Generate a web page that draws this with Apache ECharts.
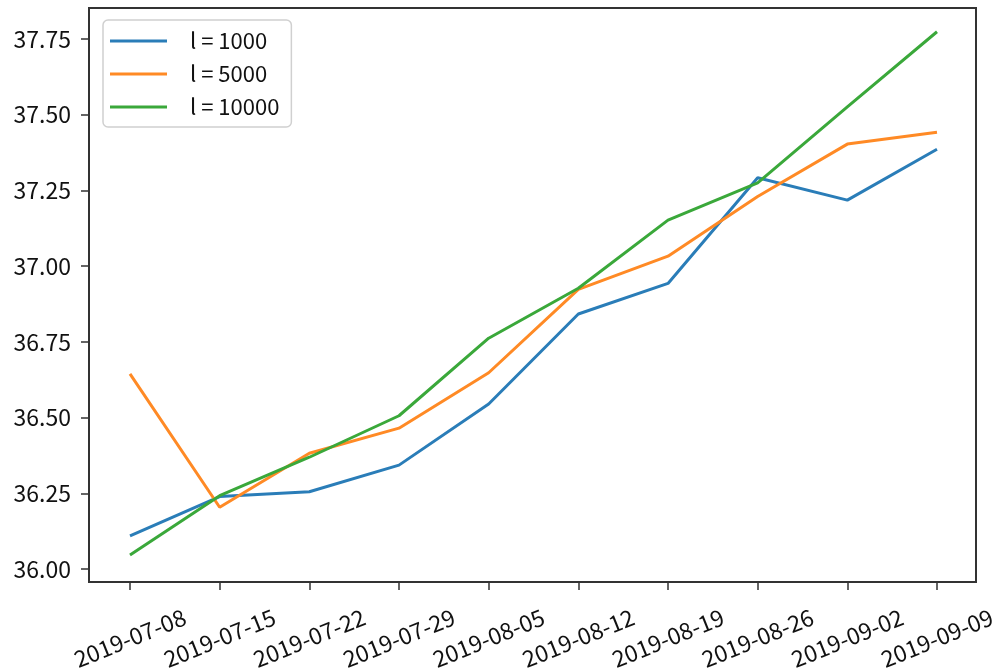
<!DOCTYPE html>
<html>
<head>
<meta charset="utf-8">
<script src="https://cdn.jsdelivr.net/npm/echarts@6/dist/echarts.min.js"></script>
<style>html,body{margin:0;padding:0;background:#fff}#chart{width:1000px;height:672px}</style>
</head>
<body>
<div id="chart"></div>
<script>
const categories = ['2019-07-08','2019-07-15','2019-07-22','2019-07-29','2019-08-05','2019-08-12','2019-08-19','2019-08-26','2019-09-02','2019-09-09'];
const seriesNames = ['l = 1000','l = 5000','l = 10000'];
const s1000 = [36.109, 36.239, 36.255, 36.343, 36.545, 36.842, 36.943, 37.292, 37.218, 37.386];
const s5000 = [36.644, 36.204, 36.382, 36.465, 36.648, 36.923, 37.033, 37.230, 37.403, 37.442];
const s10000 = [36.046, 36.242, 36.369, 36.506, 36.762, 36.927, 37.152, 37.275, 37.526, 37.774];
const yMin = 36.0, yMax = 37.75, yStep = 0.25;

const font = '"Noto Sans CJK SC", "Noto Sans", sans-serif';
const colors = ['#2a7db8','#ff8a25','#3aa83a'];
const chart = echarts.init(document.getElementById('chart'));
const data = [s1000, s5000, s10000];
chart.setOption({
  animation: false,
  color: colors,
  grid: {left: 130, right: 63, top: 39, bottom: 103, containLabel: false},
  graphic: [{
    type: 'rect', z: 100, silent: true,
    shape: {x: 89, y: 8, width: 887, height: 574},
    style: {fill: 'none', stroke: '#333', lineWidth: 2}
  }],
  legend: {
    orient: 'vertical', left: 103, top: 20,
    icon: 'rect', itemWidth: 57, itemHeight: 3, itemGap: 9,
    padding: [9, 12, 8, 7],
    backgroundColor: '#fff',
    borderColor: '#d0d0d0', borderWidth: 1.5, borderRadius: 5,
    textStyle: {fontFamily: font, fontSize: 22, color: '#111', padding: [0, 0, 0, 18], lineHeight: 24},
    data: seriesNames
  },
  xAxis: {
    type: 'category', data: categories, boundaryGap: false, offset: 13,
    axisLine: {show: false},
    axisTick: {show: true, length: 8, lineStyle: {color: '#333', width: 1.5}},
    axisLabel: {rotate: 22, align: 'center', verticalAlign: 'middle', margin: 56,
      fontFamily: font, fontSize: 23, color: '#111', interval: 0},
    splitLine: {show: false}
  },
  yAxis: {
    type: 'value', min: yMin, max: yMax, interval: yStep, offset: 41,
    axisLine: {show: false},
    axisTick: {show: true, length: 8, lineStyle: {color: '#333', width: 1.5}},
    axisLabel: {margin: 18, fontFamily: font, fontSize: 23, color: '#111',
      formatter: v => v.toFixed(2)},
    splitLine: {show: false}
  },
  series: data.map((d, i) => ({
    name: seriesNames[i], type: 'line', data: d, clip: false,
    symbol: 'none', lineStyle: {width: 3, color: colors[i]}, z: 2 + i
  }))
});
</script>
</body>
</html>
